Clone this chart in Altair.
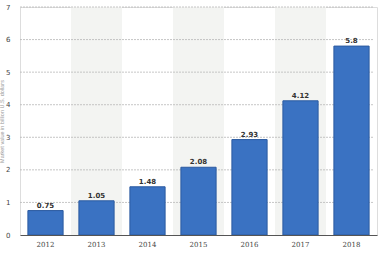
import altair as alt
import pandas as pd

years = ["2012", "2013", "2014", "2015", "2016", "2017", "2018"]
values = [0.75, 1.05, 1.48, 2.08, 2.93, 4.12, 5.8]
labels = ["0.75", "1.05", "1.48", "2.08", "2.93", "4.12", "5.8"]
shaded_years = ["2013", "2015", "2017"]
grid_values = [1, 2, 3, 4, 5, 6, 7]
y_ticks = [0, 1, 2, 3, 4, 5, 6, 7]
y_title = "Market value in billion U.S. dollars"

df = pd.DataFrame({"year": years, "value": values, "label": labels})
shade_df = pd.DataFrame({"year": shaded_years})
grid_df = pd.DataFrame({"g": grid_values})

W, H = 357, 228

xscale = alt.Scale(domain=years, paddingInner=0, paddingOuter=0)
yscale = alt.Scale(domain=[0, 7], nice=False)

xaxis = alt.Axis(title=None, labelFontSize=7, labelColor="#444", domainColor="#555",
                 domainWidth=1.2, ticks=False, labelPadding=5, grid=False, labelAngle=0,
                 labelFont="DejaVu Serif")
yaxis = alt.Axis(title=y_title, titleFontSize=5.5, titleColor="#999", titleFontWeight="normal",
                 titlePadding=1, labelFontSize=7, labelColor="#444", ticks=False,
                 labelPadding=10, domain=False, grid=False, values=y_ticks,
                 labelOverlap=False, labelFont="DejaVu Sans")

shade = alt.Chart(shade_df).mark_rect(color="#f3f4f2").encode(
    x=alt.X("year:N", scale=xscale, axis=xaxis),
    y=alt.value(0),
    y2=alt.value(H),
)

grid = alt.Chart(grid_df).mark_rule(color="#b8b8b8", strokeDash=[2, 1], strokeWidth=0.8).encode(
    y=alt.Y("g:Q", scale=yscale, axis=yaxis),
    x=alt.value(0),
    x2=alt.value(W - 4),
)

bars = alt.Chart(df).mark_bar(color="#3a72c2", stroke="#2b5aa0", strokeWidth=1,
                              width=alt.RelativeBandSize(0.69)).encode(
    x=alt.X("year:N", scale=xscale, axis=xaxis),
    y=alt.Y("value:Q", scale=yscale, axis=yaxis),
)

text = alt.Chart(df).mark_text(dy=-5, fontSize=7, fontWeight="bold", color="#333",
                               font="DejaVu Sans").encode(
    x=alt.X("year:N", scale=xscale, axis=xaxis),
    y=alt.Y("value:Q", scale=yscale, axis=yaxis),
    text="label:N",
)

chart = alt.layer(shade, grid, bars, text).properties(
    width=W, height=H,
    autosize=alt.AutoSizeParams(type="none"),
    padding={"left": 20, "top": 7, "right": 2, "bottom": 20},
).configure_view(stroke=None).configure(background="white")

chart.save("out.html", embed_options={"renderer": "svg", "actions": False})
